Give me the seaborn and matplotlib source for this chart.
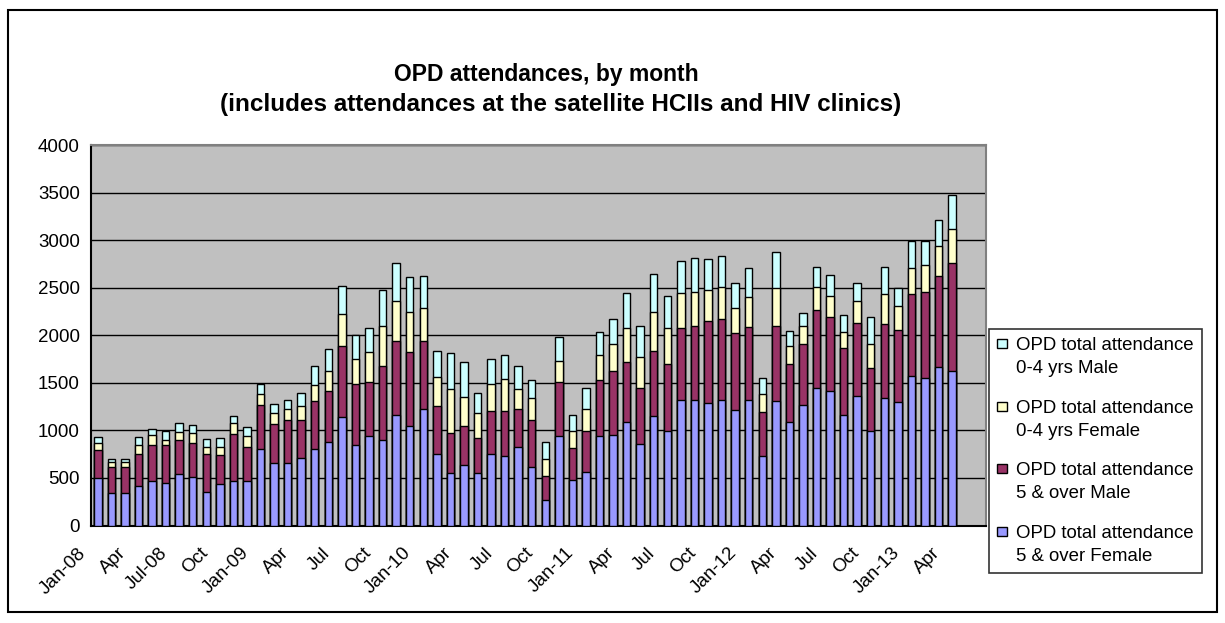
import numpy as np
import pandas as pd
import matplotlib
matplotlib.use('Agg')
import matplotlib.pyplot as plt
import matplotlib.transforms as mtransforms
from matplotlib.patches import Rectangle, Patch
from matplotlib.legend_handler import HandlerPatch
import seaborn as sns

# monthly categories Jan-08 .. Jun-13 (last two months have no data yet)
months = pd.date_range('2008-01-01', periods=66, freq='MS').strftime('%b-%y').tolist()
tick_labels = ['Jan-08', 'Apr', 'Jul-08', 'Oct', 'Jan-09', 'Apr', 'Jul', 'Oct',
               'Jan-10', 'Apr', 'Jul', 'Oct', 'Jan-11', 'Apr', 'Jul', 'Oct',
               'Jan-12', 'Apr', 'Jul', 'Oct', 'Jan-13', 'Apr']

female_5_over = [495, 340, 340, 411, 467, 449, 544, 505, 351, 432, 467, 467,
                 807, 654, 654, 711, 809, 882, 1145, 844, 938, 900, 1166, 1050,
                 1222, 749, 557, 637, 557, 753, 732, 830, 620, 273, 942, 483,
                 560, 942, 956, 1089, 861, 1148, 998, 1320, 1320, 1285, 1320, 1211,
                 1320, 735, 1306, 1092, 1267, 1449, 1418, 1166, 1358, 998, 1341, 1302,
                 1568, 1547, 1663, 1624]
male_5_over = [295, 278, 278, 337, 375, 397, 358, 362, 397, 305, 491, 361,
               457, 417, 456, 399, 497, 536, 742, 644, 574, 777, 777, 777,
               721, 511, 416, 410, 367, 451, 476, 395, 493, 249, 567, 329,
               438, 584, 665, 626, 588, 683, 700, 756, 777, 868, 850, 809,
               763, 455, 794, 609, 644, 816, 773, 700, 774, 661, 773, 756,
               868, 910, 962, 1134]
female_0_4 = [73, 45, 45, 98, 113, 56, 77, 109, 80, 91, 116, 113,
              115, 112, 112, 150, 168, 206, 339, 266, 315, 420, 416, 420,
              343, 305, 459, 308, 263, 284, 336, 207, 224, 175, 224, 182,
              227, 266, 287, 361, 326, 416, 378, 364, 360, 322, 340, 269,
              318, 189, 392, 189, 189, 245, 224, 171, 231, 249, 322, 249,
              266, 284, 308, 357]
male_0_4 = [64, 35, 35, 81, 63, 95, 99, 84, 78, 95, 81, 94,
            106, 98, 98, 137, 206, 228, 287, 252, 252, 378, 399, 361,
            339, 266, 381, 360, 210, 266, 252, 245, 193, 185, 248, 172,
            224, 245, 262, 364, 325, 396, 339, 343, 357, 322, 325, 263,
            305, 168, 385, 151, 133, 210, 214, 175, 189, 287, 284, 189,
            287, 248, 280, 364]

series_names = ['OPD total attendance\n5 & over Female',
                'OPD total attendance\n5 & over Male',
                'OPD total attendance\n0-4 yrs Female',
                'OPD total attendance\n0-4 yrs Male']
colors = ['#9999FF', '#993366', '#FFFFCC', '#CCFFFF']

pad = [np.nan] * (len(months) - len(female_5_over))
layers = np.array([female_5_over + pad, male_5_over + pad,
                   female_0_4 + pad, male_0_4 + pad], dtype=float)
tops = np.cumsum(layers, axis=0)
df = pd.DataFrame({'month': months})
for i in range(4):
    df['top{}'.format(i)] = tops[i]

sns.set_style('white')
plt.rcParams['font.family'] = ['Liberation Sans', 'DejaVu Sans']
plt.rcParams['text.color'] = 'black'
plt.rcParams['xtick.color'] = 'black'
plt.rcParams['ytick.color'] = 'black'
plt.rcParams['axes.labelcolor'] = 'black'

fig = plt.figure(figsize=(12.25, 6.23), dpi=100)
ax = fig.add_axes([91 / 1225, 1 - 525.5 / 623, 895 / 1225, 380.5 / 623])
ax.set_facecolor('#C0C0C0')

# draw stacked bars from the top layer down so each segment overlays the next
for i in range(3, -1, -1):
    sns.barplot(data=df, x='month', y='top{}'.format(i), order=months,
                color=colors[i], saturation=1, width=0.55, edgecolor='black',
                linewidth=1.0, errorbar=None, ax=ax)
for p in ax.patches:
    p.set_zorder(3)

ax.set_xlim(-0.5, len(months) - 0.5)
ax.set_ylim(0, 4000)
ax.set_yticks(range(0, 4001, 500))
ax.yaxis.grid(True, color='black', linewidth=1.0, zorder=0)
ax.set_axisbelow(True)
ax.set_xlabel('')
ax.set_ylabel('')

ax.set_xticks(range(0, len(months), 3))
ax.set_xticklabels(tick_labels, rotation=45, ha='right', va='center',
                   rotation_mode='anchor', fontsize=13.5)
ax.set_xticks(np.arange(-0.5, len(months), 1), minor=True)
ax.tick_params(axis='x', which='major', length=0, pad=18)
ax.tick_params(axis='x', which='minor', length=5, width=1, color='black', direction='out')
ax.tick_params(axis='y', length=5, width=1, color='black', direction='out', labelsize=13.5, pad=3)
shift = mtransforms.ScaledTranslation(-10.5 / 72, 0, fig.dpi_scale_trans)
for lab in ax.get_xticklabels():
    lab.set_transform(lab.get_transform() + shift)

for side in ['left', 'bottom']:
    ax.spines[side].set_color('black')
    ax.spines[side].set_linewidth(1.5)
for side in ['top', 'right']:
    ax.spines[side].set_color('#808080')
    ax.spines[side].set_linewidth(1.5)

fig.text(546 / 1225, 1 - 74 / 623, 'OPD attendances, by month', ha='center', va='center',
         fontsize=16.5, fontweight='bold')
fig.text(561 / 1225, 1 - 104 / 623, '(includes attendances at the satellite HCIIs and HIV clinics)',
         ha='center', va='center', fontsize=17.5, fontweight='bold')


# legend marker sits beside the first line of each two-line label
def top_square(legend, orig_handle, xdescent, ydescent, width, height, fontsize):
    s = 0.5 * fontsize
    cy = -ydescent + height / 2 + 0.72 * fontsize
    return Rectangle((-xdescent, cy - s / 2), s, s)


leg_fs = 13.4
handles = [Patch(facecolor=colors[i], edgecolor='black', linewidth=1.0) for i in range(3, -1, -1)]
leg = fig.legend(handles, [series_names[i] for i in range(3, -1, -1)],
                 loc='lower left', bbox_to_anchor=(989 / 1225, 1 - 573 / 623),
                 fontsize=leg_fs, frameon=True, fancybox=False, shadow=False,
                 handlelength=0.5, handleheight=0.7, handletextpad=0.5,
                 labelspacing=1.22, borderpad=0.45, borderaxespad=0,
                 handler_map={Patch: HandlerPatch(patch_func=top_square)})
for t in leg.get_texts():
    t.set_linespacing(1.45)
    t.set_color('black')
leg.get_frame().set_edgecolor('black')
leg.get_frame().set_linewidth(1.2)

fig.add_artist(Rectangle((8 / 1225, 1 - 612 / 623), 1209 / 1225, 602 / 623,
                         transform=fig.transFigure, fill=False, edgecolor='black',
                         linewidth=1.5))

fig.savefig('out.png', dpi=100)
